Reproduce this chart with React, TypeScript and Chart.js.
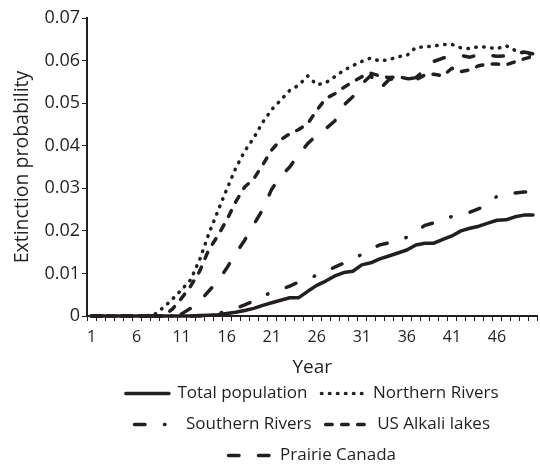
import React, { useEffect, useRef } from 'react';
import { Chart, registerables } from 'chart.js';

Chart.register(...registerables);

const years = ['1','2','3','4','5','6','7','8','9','10','11','12','13','14','15','16','17','18','19','20','21','22','23','24','25','26','27','28','29','30','31','32','33','34','35','36','37','38','39','40','41','42','43','44','45','46','47','48','49','50'];

const totalPopulation = [0,0,0,0,0,0,0,0,0,0,0,0,0.0001,0.0002,0.0003,0.0006,0.0009,0.0013,0.0018,0.0025,0.0031,0.0037,0.0043,0.0043,0.0058,0.0072,0.0082,0.0094,0.0102,0.0105,0.0120,0.0125,0.0134,0.0141,0.0148,0.0155,0.0167,0.0171,0.0171,0.0180,0.0188,0.0200,0.0206,0.0211,0.0218,0.0225,0.0226,0.0233,0.0237,0.0237];

const northernRivers = [0,0,0,0,0,0,0,0.0004,0.0020,0.0040,0.0062,0.0085,0.0132,0.0192,0.0245,0.0297,0.0347,0.0387,0.0418,0.0455,0.0485,0.0507,0.0530,0.0542,0.0564,0.0543,0.0548,0.0562,0.0577,0.0588,0.0598,0.0606,0.0599,0.0602,0.0609,0.0612,0.0631,0.0632,0.0634,0.0638,0.0638,0.0630,0.0628,0.0633,0.0631,0.0628,0.0635,0.0624,0.0617,0.0614];

const southernRivers = [0,0,0,0,0,0,0,0,0,0,0,0,0,0.0002,0.0005,0.0012,0.0018,0.0026,0.0035,0.0046,0.0056,0.0063,0.0070,0.0080,0.0087,0.0096,0.0104,0.0115,0.0124,0.0133,0.0145,0.0158,0.0167,0.0172,0.0177,0.0185,0.0198,0.0213,0.0219,0.0224,0.0234,0.0239,0.0244,0.0252,0.0264,0.0281,0.0287,0.0289,0.0291,0.0292];

const usAlkaliLakes = [0,0,0,0,0,0,0,0,0,0.0017,0.0042,0.0070,0.0105,0.0155,0.0188,0.0225,0.0268,0.0303,0.0322,0.0355,0.0390,0.0414,0.0428,0.0438,0.0452,0.0483,0.0511,0.0522,0.0537,0.0550,0.0562,0.0570,0.0564,0.0560,0.0562,0.0558,0.0555,0.0566,0.0568,0.0564,0.0582,0.0574,0.0578,0.0588,0.0592,0.0592,0.0590,0.0597,0.0604,0.0610];

const prairieCanada = [0,0,0,0,0,0,0,0,0,0,0.0005,0.0018,0.0035,0.0058,0.0082,0.0112,0.0147,0.0178,0.0215,0.0250,0.0298,0.0328,0.0350,0.0380,0.0405,0.0425,0.0440,0.0458,0.0495,0.0515,0.0545,0.0565,0.0533,0.0555,0.0560,0.0556,0.0560,0.0578,0.0598,0.0606,0.0611,0.0612,0.0608,0.0614,0.0613,0.0610,0.0611,0.0618,0.0620,0.0616];

const yTicks = [0, 0.01, 0.02, 0.03, 0.04, 0.05, 0.06, 0.07];

const INK = '#231f20';
const FONT = "'Open Sans', sans-serif";

export default function App() {
  const ref = useRef<HTMLCanvasElement>(null);

  useEffect(() => {
    const mk = (label: string, data: number[], dash: number[]) => ({
      label,
      data,
      borderColor: INK,
      backgroundColor: INK,
      borderWidth: 3.5,
      borderDash: dash,
      borderCapStyle: 'round' as const,
      borderJoinStyle: 'round' as const,
      pointRadius: 0,
      tension: 0,
      fill: false,
      clip: false as any,
    });

    const chart = new Chart(ref.current!, {
      type: 'line',
      data: {
        labels: years,
        datasets: [
          mk('Total population', totalPopulation, []),
          mk('Northern Rivers', northernRivers, [0.5, 7.5]),
          mk('Southern Rivers', southernRivers, [10.5, 19.5, 0.5, 19.5]),
          mk('US Alkali lakes', usAlkaliLakes, [6.5, 9.5]),
          mk('Prairie Canada', prairieCanada, [10.5, 19.5]),
        ],
      },
      options: {
        responsive: false,
        devicePixelRatio: 1,
        animation: false,
        layout: { padding: { left: 11, right: 1, top: 18, bottom: -7 } },
        plugins: {
          tooltip: { enabled: false },
          legend: {
            position: 'bottom',
            fullSize: false,
            labels: {
              color: INK,
              font: { family: FONT, size: 17 },
              usePointStyle: true,
              pointStyle: 'line',
              pointStyleWidth: 43,
              padding: 14,
              generateLabels: (c: any) =>
                c.data.datasets.map((ds: any, i: number) => ({
                  text: ds.label,
                  fillStyle: INK,
                  strokeStyle: INK,
                  fontColor: INK,
                  lineWidth: ds.borderWidth,
                  lineDash: ds.borderDash,
                  lineCap: 'round',
                  pointStyle: 'line',
                  hidden: false,
                  datasetIndex: i,
                })),
            },
          },
        },
        scales: {
          x: {
            type: 'category',
            offset: true,
            grid: {
              offset: true,
              drawOnChartArea: false,
              drawTicks: true,
              tickLength: 5,
              color: INK,
              lineWidth: 1,
            },
            border: { display: true, color: INK, width: 2 },
            ticks: {
              autoSkip: false,
              maxRotation: 0,
              minRotation: 0,
              padding: 7,
              color: INK,
              font: { family: FONT, size: 16 },
              callback: (_v: any, i: number) => (i % 5 === 0 ? years[i] : ''),
            },
            title: {
              display: true,
              text: 'Year',
              color: INK,
              font: { family: FONT, size: 19 },
              padding: { top: 2, bottom: -8 },
            },
          },
          y: {
            min: 0,
            max: 0.07,
            afterBuildTicks: (s: any) => {
              s.ticks = yTicks.map((v) => ({ value: v }));
            },
            grid: {
              drawOnChartArea: false,
              drawTicks: true,
              tickLength: 5,
              color: INK,
              lineWidth: 1,
            },
            border: { display: true, color: INK, width: 2 },
            ticks: {
              padding: 2,
              color: INK,
              font: { family: FONT, size: 18 },
              callback: (v: any) => (Number(v) === 0 ? '0' : Number(v).toFixed(2)),
            },
            title: {
              display: true,
              text: 'Extinction probability',
              color: INK,
              font: { family: FONT, size: 19.5 },
              padding: { top: 0, bottom: 8 },
            },
          },
        },
      },
    });
    return () => chart.destroy();
  }, []);

  return (
    <div style={{ position: 'fixed', left: 0, top: 0, width: 540, height: 467, background: '#fff' }}>
      <canvas ref={ref} width={540} height={467} style={{ display: 'block' }} />
    </div>
  );
}
